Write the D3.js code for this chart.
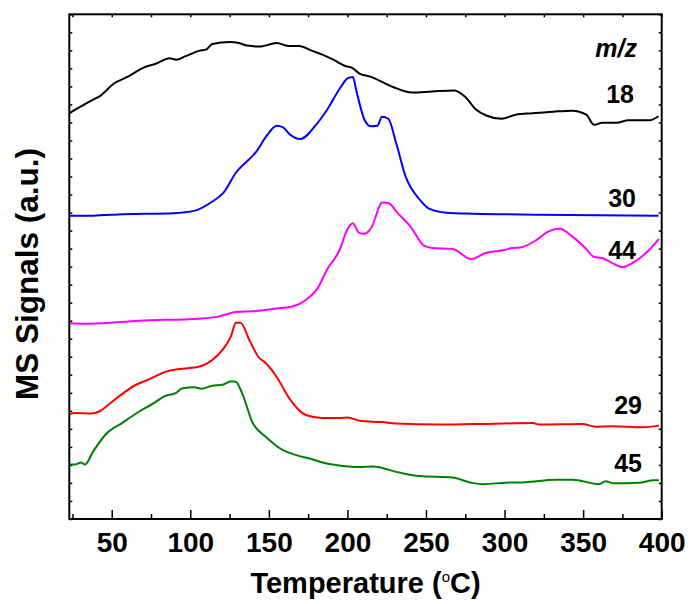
<!DOCTYPE html>
<html>
<head>
<meta charset="utf-8">
<script src="https://cdn.jsdelivr.net/npm/d3@7"></script>
<style>
  body { margin: 0; background: #fff; }
  svg { display: block; font-family: Arial, "Liberation Sans", sans-serif; font-weight: bold; }
</style>
</head>
<body>
<svg id="chart"></svg>
<script>
// MS signals vs temperature (a.u. on a 0-100 scale)
const temp18 = [23, 29, 37, 43, 51, 60, 70, 78, 87, 91, 97, 106, 110, 114, 125, 131, 136, 144, 155, 163,
  169, 178, 184, 191, 199, 203, 208, 214, 229, 241, 254, 268, 275, 282, 288, 298, 307, 318, 331, 343,
  352, 357, 362, 371, 379, 392, 398];
const signal18 = [80.4, 81.5, 82.9, 83.9, 86.2, 87.6, 89.4, 90.2, 91.3, 91.0, 91.7, 92.8, 93.0, 94.1, 94.5, 94.3, 93.8, 93.6, 94.3, 93.7,
  93.7, 92.7, 92.0, 91.0, 89.7, 89.4, 88.2, 87.7, 85.6, 84.5, 84.7, 84.9, 83.6, 81.1, 80.0, 79.3, 80.1, 80.4, 80.7, 80.9,
  80.1, 78.1, 78.5, 78.5, 79.0, 79.0, 79.8];

const temp30 = [23, 38, 57, 89, 103, 114, 121, 129, 142, 149, 155, 159, 163, 170, 180, 186, 196, 200, 203.5, 205.5,
  211, 215, 219, 222, 226, 231, 237, 246, 252, 263, 280, 322, 398];
const signal30 = [60.1, 60.1, 60.4, 60.6, 61.1, 62.9, 64.6, 68.6, 72.8, 76.1, 77.9, 77.6, 76.3, 75.3, 78.1, 80.6, 85.7, 87.3, 87.6, 85.1,
  79.0, 77.8, 77.9, 79.7, 79.3, 74.5, 67.9, 63.3, 61.5, 60.7, 60.5, 60.3, 60.1];

const temp44 = [23, 36, 67.5, 106, 118, 129, 142, 154.5, 165, 173.6, 181, 187, 195, 200, 203.3, 207.5, 210.7, 215, 222.3, 226,
  232, 240, 249, 254, 267, 278.6, 288, 300, 305, 310, 320, 328, 335, 343, 352, 357, 362, 368.6, 375.4, 381.3,
  392, 398.3];
const signal44 = [38.8, 38.7, 39.3, 39.7, 40.1, 41.0, 41.2, 41.7, 42.1, 43.4, 45.7, 49.4, 53.3, 57.4, 58.6, 56.7, 56.5, 57.6, 62.7, 62.6,
  60.6, 58.0, 54.1, 53.7, 53.5, 51.5, 52.7, 53.3, 53.7, 53.8, 55.2, 57.0, 57.5, 56.0, 53.5, 51.9, 51.7, 50.7, 49.9, 50.7,
  53.3, 55.5];

const temp29 = [23, 27, 37, 42, 48.5, 55, 65.5, 74, 84.5, 93, 106, 114, 120.5, 126, 129, 132, 137.5, 143.4, 148, 155.5,
  163, 173.6, 184, 195, 200, 209, 222, 231, 258, 280, 318, 322, 349.5, 358, 368.6, 387.7, 398.3];
const signal29 = [20.8, 21.0, 20.9, 21.3, 22.8, 24.4, 26.6, 27.7, 29.2, 29.7, 30.2, 31.5, 33.5, 36.3, 38.9, 38.9, 35.5, 32.1, 30.9, 27.9,
  23.9, 20.6, 20.0, 20.0, 20.1, 19.4, 19.2, 18.9, 18.7, 18.8, 19.0, 18.7, 18.8, 18.3, 18.4, 18.2, 18.5];

const temp45 = [23, 27, 30.5, 33, 38, 46, 57, 67.5, 76, 83.4, 91, 95, 102.5, 107, 114, 120.5, 126, 129, 133, 139.6,
  148, 158.7, 167, 178, 184, 192.7, 207.5, 216, 233, 245.7, 266.8, 278.6, 286, 300.8, 313.5, 332.6, 343.2, 360.2, 364.4, 368.6,
  385.6, 395, 398.3];
const signal45 = [10.8, 10.8, 11.2, 10.8, 13.3, 16.7, 19.1, 21.3, 22.8, 24.3, 25.0, 25.9, 26.1, 25.8, 26.4, 26.6, 27.3, 27.2, 24.9, 19.1,
  16.3, 13.7, 12.7, 11.8, 11.2, 10.7, 10.3, 10.4, 9.2, 8.5, 8.2, 7.2, 6.9, 7.2, 7.3, 7.8, 7.8, 6.9, 7.5, 7.1,
  7.2, 7.7, 7.7];

const seriesNames = ["18", "30", "44", "29", "45"];
const seriesColors = ["#000000", "#0000ff", "#ff00ff", "#ff0000", "#008000"];
const xMajorTicks = [50, 100, 150, 200, 250, 300, 350, 400];
const xMinorTicks = [25, 75, 125, 175, 225, 275, 325, 375];

const width = 692;
const height = 604;
const margin = {top: 14.3, right: 30.3, bottom: 85, left: 69.3};

const svg = d3.select("#chart")
    .attr("width", width)
    .attr("height", height)
    .attr("viewBox", [0, 0, width, height]);

const x = d3.scaleLinear([23, 400], [margin.left, width - margin.right]);
const y = d3.scaleLinear([0, 100], [height - margin.bottom, margin.top]);

const series = [
  [temp18, signal18], [temp30, signal30], [temp44, signal44], [temp29, signal29], [temp45, signal45]
].map(([t, s], i) => ({
  name: seriesNames[i],
  color: seriesColors[i],
  points: t.map((d, j) => [d, s[j]])
}));

// ticks: all pointing into the frame
const tickStyle = g => {
  g.select(".domain").remove();
  g.selectAll(".tick line").attr("stroke", "#000").attr("stroke-width", 1.5);
};

svg.append("g")
    .attr("transform", `translate(0,${height - margin.bottom})`)
    .call(d3.axisBottom(x).tickValues(xMajorTicks).tickSize(-9).tickPadding(13).tickFormat(d3.format("d")))
    .call(tickStyle)
    .call(g => g.selectAll(".tick text")
        .attr("fill", "#000")
        .style("font-size", "28px")
        .style("font-weight", "bold"));

svg.append("g")
    .attr("transform", `translate(0,${height - margin.bottom})`)
    .call(d3.axisBottom(x).tickValues(xMinorTicks).tickSize(-5).tickFormat(""))
    .call(tickStyle);

svg.append("g")
    .attr("transform", `translate(0,${margin.top})`)
    .call(d3.axisTop(x).tickValues(xMajorTicks.concat(xMinorTicks)).tickSize(-3).tickFormat(""))
    .call(tickStyle);

const yTicks = d3.range(0, 100.001, 100 / 28);
svg.append("g")
    .attr("transform", `translate(${margin.left},0)`)
    .call(d3.axisLeft(y).tickValues(yTicks).tickSize(-3).tickFormat(""))
    .call(tickStyle);

svg.append("g")
    .attr("transform", `translate(${width - margin.right},0)`)
    .call(d3.axisRight(y).tickValues(yTicks).tickSize(-3).tickFormat(""))
    .call(tickStyle);

const line = d3.line()
    .x(d => x(d[0]))
    .y(d => y(d[1]))
    .curve(d3.curveMonotoneX);

svg.append("g")
    .attr("fill", "none")
    .attr("stroke-width", 2)
    .attr("stroke-linejoin", "round")
  .selectAll("path")
  .data(series)
  .join("path")
    .attr("stroke", d => d.color)
    .attr("d", d => line(d.points));

// frame
svg.append("rect")
    .attr("x", margin.left)
    .attr("y", margin.top)
    .attr("width", width - margin.left - margin.right)
    .attr("height", height - margin.top - margin.bottom)
    .attr("fill", "none")
    .attr("stroke", "#000")
    .attr("stroke-width", 2);

// curve labels (right end of each trace)
const labelBase = {"18": 103, "30": 207, "44": 259, "29": 414, "45": 472};
const labelRight = {"18": 634, "30": 636, "44": 636, "29": 642, "45": 642};

svg.append("text")
    .attr("x", 637)
    .attr("y", 57)
    .attr("text-anchor", "end")
    .style("font-size", "25px")
    .style("font-style", "italic")
    .text("m/z");

svg.append("g")
  .selectAll("text")
  .data(series)
  .join("text")
    .attr("x", d => labelRight[d.name])
    .attr("y", d => labelBase[d.name])
    .attr("text-anchor", "end")
    .style("font-size", "25px")
    .text(d => d.name);

// axis titles
const xTitle = svg.append("text")
    .attr("x", (margin.left + width - margin.right) / 2)
    .attr("y", 593)
    .attr("text-anchor", "middle")
    .style("font-size", "29px");
xTitle.append("tspan").text("Temperature (");
xTitle.append("tspan").attr("dy", -11).style("font-size", "15px").style("font-weight", "normal").text("o");
xTitle.append("tspan").attr("dy", 11).text("C)");

svg.append("text")
    .attr("transform", "translate(38,274) rotate(-90)")
    .attr("text-anchor", "middle")
    .style("font-size", "31.5px")
    .text("MS Signals (a.u.)");
</script>
</body>
</html>
